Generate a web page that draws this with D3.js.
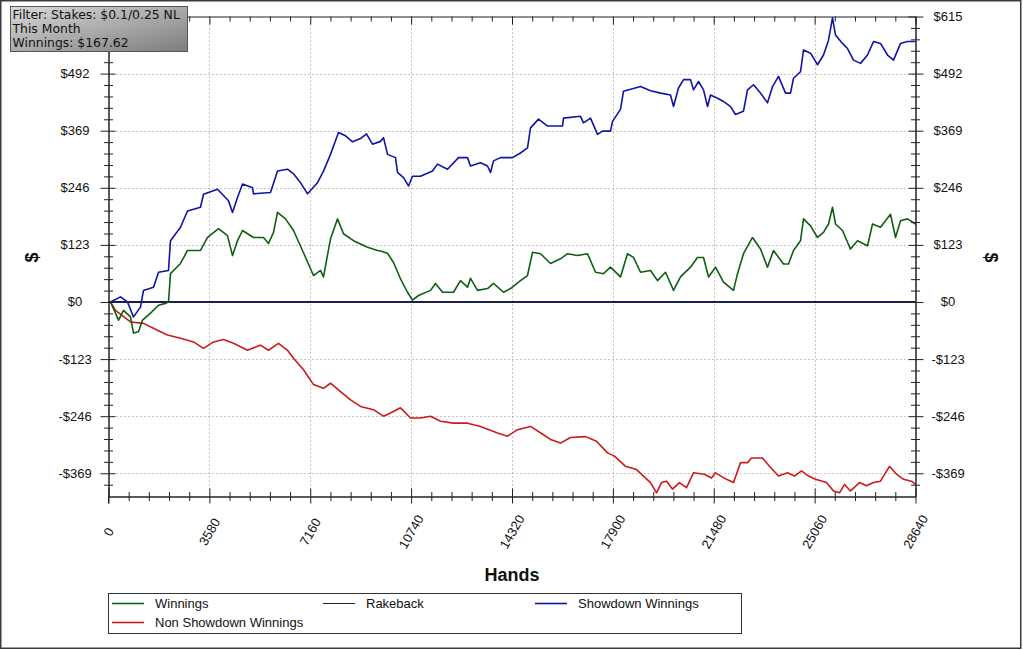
<!DOCTYPE html>
<html>
<head>
<meta charset="utf-8">
<script src="https://cdn.jsdelivr.net/npm/d3@7"></script>
<style>
  html, body { margin: 0; padding: 0; background: #fff; }
  svg { display: block; }
</style>
</head>
<body>
<svg id="chart" width="1023" height="650"></svg>
<script>
// ---------------- DATA ----------------
const xTickValues = [0, 3580, 7160, 10740, 14320, 17900, 21480, 25060, 28640];
const yTickValues = [-369, -246, -123, 0, 123, 246, 369, 492, 615];
const seriesNames = ["Winnings", "Rakeback", "Showdown Winnings", "Non Showdown Winnings"];
const filterLines = ["Filter: Stakes: $0.1/0.25 NL", "This Month", "Winnings: $167.62"];

const winHands = [0,71,248,355,532,781,887,1065,1207,1491,1775,2023,2129,2200,2555,2804,3265,3514,3904,4223,4401,4578,4756,5146,5501,5678,5856,5998,6282,6566,6885,7275,7524,7630,7879,8127,8340,8695,9192,9547,9653,9902,10115,10363,10612,10789,11002,11428,11605,11854,12244,12492,12741,12847,13096,13451,13664,14019,14267,14622,14870,15048,15332,15687,16041,16290,16645,16999,17284,17567,17816,18171,18419,18632,18881,19236,19484,19768,20052,20300,20655,20903,21117,21294,21543,21826,22181,22323,22536,22855,23139,23388,23600,23955,24133,24311,24559,24666,24914,25162,25375,25553,25695,25801,26049,26334,26582,26937,27114,27398,27753,27931,28108,28356,28640];
const winValues = [0,0,-24,-39,-18,-32,-67,-64,-39,-24,-7,-3,0,61,83,111,111,139,158,143,100,132,154,139,139,126,150,193,179,154,111,57,68,54,136,179,147,132,118,111,110,105,85,50,21,4,14,25,40,21,21,46,32,51,25,29,40,21,29,46,57,107,104,83,93,104,100,104,64,61,75,54,104,96,64,68,46,64,25,54,75,96,96,54,75,43,25,61,104,139,114,75,111,82,82,111,132,179,164,139,150,168,204,168,154,114,132,121,168,161,189,139,175,179,168];

const rakeHands = [0, 28640];
const rakeValues = [0, 0];

const sdHands = [0,71,426,674,887,1136,1242,1597,1775,2129,2200,2555,2804,3265,3372,3869,4259,4401,4578,4756,5111,5146,5749,5998,6353,6566,6814,7063,7417,7630,7879,8163,8411,8660,8943,9156,9369,9653,9760,9902,10186,10257,10470,10647,10789,11073,11499,11676,12031,12422,12741,12847,13202,13451,13557,13664,13912,14338,14622,14870,14977,15261,15580,16112,16148,16751,16858,17106,17355,17532,17816,17887,18171,18277,18881,19236,19590,19945,20052,20229,20407,20655,20762,20939,21117,21259,21365,21614,21826,22075,22252,22536,22678,22891,23139,23388,23565,23778,24027,24204,24311,24559,24666,24914,25162,25375,25553,25695,25801,26049,26227,26440,26688,26937,27150,27398,27647,27860,28108,28356,28640];
const sdValues = [0,0,11,0,-32,-11,25,32,64,68,132,161,196,204,232,243,218,193,225,254,246,233,236,282,286,276,257,233,257,282,318,365,358,345,352,362,340,346,354,318,311,279,268,250,271,271,282,297,286,311,311,293,300,293,279,304,311,311,321,332,375,394,379,379,396,400,386,396,361,368,368,389,415,454,464,455,450,446,421,461,479,479,457,475,457,421,446,439,432,421,404,411,457,468,450,429,464,486,450,450,482,496,543,536,511,532,564,612,575,557,546,521,514,532,561,557,532,521,557,561,561];

const nsdHands = [0,71,248,781,1242,1739,2094,2555,3017,3372,3726,4081,4436,4933,5394,5678,6033,6353,6566,6921,7275,7630,7879,8234,8589,8943,9405,9760,10008,10363,10718,11073,11428,11783,12244,12741,13202,13806,14161,14515,14977,15438,15687,16041,16396,16928,17319,17709,17958,18348,18739,18987,19236,19449,19626,19803,20016,20265,20513,20762,21152,21400,21542,21933,22181,22430,22678,22820,23210,23459,23778,24098,24346,24594,24843,25091,25482,25731,25944,26121,26334,26653,26901,27150,27398,27717,27966,28214,28498,28640];
const nsdValues = [0,0,-18,-43,-46,-61,-71,-78,-86,-100,-86,-81,-89,-104,-93,-104,-89,-104,-121,-146,-178,-186,-175,-193,-211,-225,-232,-246,-239,-228,-250,-250,-246,-257,-261,-261,-268,-282,-289,-275,-268,-286,-296,-304,-292,-290,-300,-325,-332,-354,-361,-375,-389,-411,-389,-386,-403,-389,-400,-368,-371,-379,-368,-382,-389,-346,-346,-336,-336,-354,-375,-368,-375,-364,-375,-382,-389,-407,-411,-393,-407,-389,-396,-389,-386,-354,-371,-382,-386,-393];

// ---------------- LAYOUT ----------------
const svg = d3.select("#chart");
const plot = { left: 108.5, right: 915.5, top: 16.5, bottom: 496.5 };

const x = d3.scaleLinear().domain([0, 28640]).range([plot.left, plot.right]);
const y = d3.scaleLinear().domain([-419, 615]).range([plot.bottom, plot.top]);

const colors = {
  win: "#0f5f12",
  rake: "#1b1f4e",
  sd: "#1014a8",
  nsd: "#cc1a1a"
};
const FONT = "'Liberation Sans', Arial, sans-serif";

// outer border
svg.append("rect").attr("x", 0.75).attr("y", 0.75).attr("width", 1020).attr("height", 647.5)
  .attr("fill", "#fff").attr("stroke", "#3a3a3a").attr("stroke-width", 1.5);

// grid lines (dotted)
const grid = svg.append("g").attr("stroke", "#8a8a8a").attr("stroke-width", 1)
  .attr("stroke-dasharray", "1,3");
grid.selectAll("line.gx").data(xTickValues.slice(1, -1)).join("line")
  .attr("x1", d => Math.round(x(d)) + 0.5).attr("x2", d => Math.round(x(d)) + 0.5)
  .attr("y1", plot.top).attr("y2", plot.bottom);
grid.selectAll("line.gy").data(yTickValues.filter(v => v !== 0 && v !== 615)).join("line")
  .attr("x1", plot.left).attr("x2", plot.right)
  .attr("y1", d => Math.round(y(d)) + 0.5).attr("y2", d => Math.round(y(d)) + 0.5);

// ---------------- SERIES ----------------
const line = d3.line().x(d => x(d[0])).y(d => y(d[1]));
const zip = (a, b) => a.map((v, i) => [v, b[i]]);

const gLines = svg.append("g").attr("fill", "none").attr("stroke-linejoin", "round");
gLines.append("path").datum(zip(nsdHands, nsdValues)).attr("d", line)
  .attr("stroke", colors.nsd).attr("stroke-width", 1.6);
gLines.append("path").datum(zip(sdHands, sdValues)).attr("d", line)
  .attr("stroke", colors.sd).attr("stroke-width", 1.6);
gLines.append("path").datum(zip(rakeHands, rakeValues)).attr("d", line)
  .attr("stroke", colors.rake).attr("stroke-width", 2);
gLines.append("path").datum(zip(winHands, winValues)).attr("d", line)
  .attr("stroke", colors.win).attr("stroke-width", 1.6);

// ---------------- AXES ----------------
const axisColor = "#222";
function styleAxis(g) {
  g.selectAll("path.domain").attr("stroke", axisColor);
  g.selectAll(".tick line").attr("stroke", axisColor);
  g.selectAll(".tick text").remove();
}
const xMinor = d3.range(0, 28640 + 1, 716).filter(v => !xTickValues.includes(v));
const yMinor = d3.range(-369 - 24.6 * 1, 615 + 0.1, 24.6)
  .map(v => Math.round(v * 10) / 10)
  .filter(v => v >= -419 && !yTickValues.some(t => Math.abs(t - v) < 0.5));

// bottom axis (major ticks crossing both sides, minor crossing)
svg.append("g").attr("transform", `translate(0,${plot.bottom})`)
  .call(d3.axisBottom(x).tickValues(xTickValues).tickSizeInner(7).tickSizeOuter(0)).call(styleAxis);
svg.append("g").attr("transform", `translate(0,${plot.bottom})`)
  .call(d3.axisTop(x).tickValues(xTickValues).tickSizeInner(8).tickSizeOuter(0)).call(styleAxis);
svg.append("g").attr("transform", `translate(0,${plot.bottom})`)
  .call(d3.axisBottom(x).tickValues(xMinor).tickSizeInner(4.5).tickSizeOuter(0)).call(styleAxis)
  .call(g => g.select(".domain").remove());
svg.append("g").attr("transform", `translate(0,${plot.bottom})`)
  .call(d3.axisTop(x).tickValues(xMinor).tickSizeInner(4.5).tickSizeOuter(0)).call(styleAxis)
  .call(g => g.select(".domain").remove());

// top frame with inward ticks
svg.append("g").attr("transform", `translate(0,${plot.top})`)
  .call(d3.axisBottom(x).tickValues(xTickValues).tickSizeInner(8).tickSizeOuter(0)).call(styleAxis);
svg.append("g").attr("transform", `translate(0,${plot.top})`)
  .call(d3.axisBottom(x).tickValues(xMinor).tickSizeInner(5).tickSizeOuter(0)).call(styleAxis)
  .call(g => g.select(".domain").remove());

// left and right axes, ticks crossing the axis line
[[plot.left, d3.axisLeft, 8, 4.5], [plot.left, d3.axisRight, 7, 4.5],
 [plot.right, d3.axisLeft, 7, 4.5], [plot.right, d3.axisRight, 8, 4.5]].forEach(([px, ax, maj, mnr]) => {
  svg.append("g").attr("transform", `translate(${px},0)`)
    .call(ax(y).tickValues(yTickValues).tickSizeInner(maj).tickSizeOuter(0)).call(styleAxis);
  svg.append("g").attr("transform", `translate(${px},0)`)
    .call(ax(y).tickValues(yMinor).tickSizeInner(mnr).tickSizeOuter(0)).call(styleAxis)
    .call(g => g.select(".domain").remove());
});
svg.append("line").attr("x1", plot.left).attr("x2", plot.left).attr("y1", plot.bottom).attr("y2", plot.bottom + 7)
  .attr("stroke", axisColor);

// y tick labels (left "$615" is hidden under the filter box in the reference)
const fmtY = v => (v < 0 ? "-$" : "$") + Math.abs(v);
const yLab = svg.append("g").attr("font-family", FONT).attr("font-size", 13).attr("fill", "#111")
  .attr("text-anchor", "middle");
yLab.selectAll("text.l").data(yTickValues.filter(v => v !== 615)).join("text")
  .attr("x", 75).attr("y", d => y(d) + 4.5).text(fmtY);
yLab.selectAll("text.r").data(yTickValues).join("text")
  .attr("x", 948).attr("y", d => y(d) + 4.5).text(fmtY);

// x tick labels (rotated)
svg.append("g").attr("font-family", FONT).attr("font-size", 13).attr("fill", "#111")
  .selectAll("text").data(xTickValues).join("text")
  .attr("text-anchor", "middle")
  .attr("transform", d => `translate(${x(d) + 4},534) rotate(-60)`)
  .text(d => d);

// axis titles
svg.append("text").attr("x", x(14320)).attr("y", 581).attr("text-anchor", "middle")
  .attr("font-family", FONT).attr("font-weight", "bold").attr("font-size", 18).attr("fill", "#111")
  .text("Hands");
svg.append("text").attr("transform", "translate(37.5,257.5) rotate(-90)").attr("text-anchor", "middle")
  .attr("font-family", FONT).attr("font-weight", "bold").attr("font-size", 18).attr("fill", "#111")
  .text("$");
svg.append("text").attr("transform", "translate(984.5,257.5) rotate(90)").attr("text-anchor", "middle")
  .attr("font-family", FONT).attr("font-weight", "bold").attr("font-size", 18).attr("fill", "#111")
  .text("$");

// ---------------- LEGEND ----------------
const legend = svg.append("g");
legend.append("rect").attr("x", 108.5).attr("y", 593.5).attr("width", 633).attr("height", 40)
  .attr("fill", "#fff").attr("stroke", "#333").attr("stroke-width", 1);
const legendItems = [
  { name: seriesNames[0], color: colors.win, lx: 112, ty: 603.5 },
  { name: seriesNames[1], color: "#222", lx: 323, ty: 603.5 },
  { name: seriesNames[2], color: colors.sd, lx: 535, ty: 603.5 },
  { name: seriesNames[3], color: colors.nsd, lx: 112, ty: 622.5 }
];
const li = legend.selectAll("g.item").data(legendItems).join("g");
li.append("line").attr("x1", d => d.lx).attr("x2", d => d.lx + 32)
  .attr("y1", d => d.ty).attr("y2", d => d.ty)
  .attr("stroke", d => d.color).attr("stroke-width", d => d.name === "Rakeback" ? 1 : 1.6);
li.append("text").attr("x", d => d.lx + 43).attr("y", d => d.ty + 4.5)
  .attr("font-family", FONT).attr("font-size", 13).attr("fill", "#111").text(d => d.name);

// ---------------- FILTER BOX ----------------
const defs = svg.append("defs");
const grad = defs.append("linearGradient").attr("id", "boxGrad")
  .attr("x1", "0").attr("y1", "0").attr("x2", "1").attr("y2", "1");
grad.append("stop").attr("offset", "0%").attr("stop-color", "#d9d9d9");
grad.append("stop").attr("offset", "100%").attr("stop-color", "#7d7d7d");
svg.append("rect").attr("x", 10.5).attr("y", 6.5).attr("width", 177).attr("height", 45)
  .attr("fill", "url(#boxGrad)").attr("stroke", "#555").attr("stroke-width", 1);
svg.append("g").attr("font-family", "'DejaVu Sans', Verdana, sans-serif").attr("font-size", 12.4).attr("fill", "#111")
  .selectAll("text").data(filterLines).join("text")
  .attr("x", 12.5).attr("y", (d, i) => 18.5 + i * 14.2).text(d => d);
</script>
</body>
</html>
